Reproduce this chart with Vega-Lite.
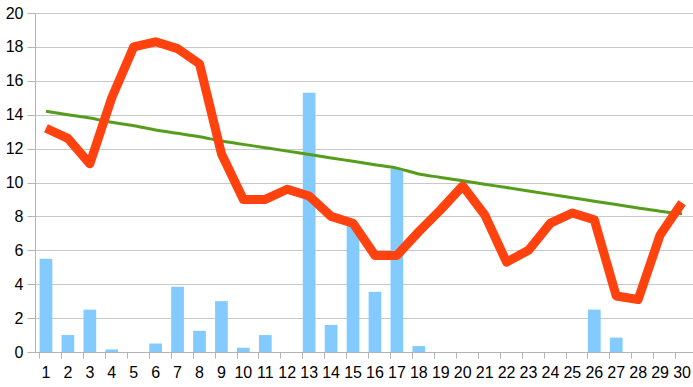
{
  "$schema": "https://vega.github.io/schema/vega-lite/v6.json",
  "width": 658,
  "height": 339,
  "autosize": {"type": "none"},
  "padding": {"left": 35, "top": 13, "right": 0, "bottom": 35},
  "background": "white",
  "config": {
    "view": {"stroke": null},
    "font": "Liberation Sans",
    "axis": {"labelFont": "Liberation Sans", "labelFontSize": 16, "labelColor": "#000000", "domainColor": "#b3b3b3", "tickColor": "#b3b3b3", "gridColor": "#c8c8c8"},
    "axisY": {"values": [0,2,4,6,8,10,12,14,16,18,20], "tickSize": 8, "labelPadding": 4, "grid": true, "domain": true, "title": null, "labelOverlap": false}
  },
  "data": {"values": [
    {"d": 1, "bar": 5.5, "red": 13.2, "green": 14.2},
    {"d": 2, "bar": 1.0, "red": 12.6, "green": 14.0},
    {"d": 3, "bar": 2.5, "red": 11.1, "green": 13.8},
    {"d": 4, "bar": 0.15, "red": 15.0, "green": 13.55},
    {"d": 5, "bar": 0, "red": 18.0, "green": 13.35},
    {"d": 6, "bar": 0.5, "red": 18.3, "green": 13.1},
    {"d": 7, "bar": 3.85, "red": 17.9, "green": 12.9},
    {"d": 8, "bar": 1.25, "red": 17.0, "green": 12.7},
    {"d": 9, "bar": 3.0, "red": 11.7, "green": 12.45},
    {"d": 10, "bar": 0.25, "red": 9.0, "green": 12.25},
    {"d": 11, "bar": 1.0, "red": 9.0, "green": 12.05},
    {"d": 12, "bar": 0, "red": 9.6, "green": 11.85},
    {"d": 13, "bar": 15.3, "red": 9.2, "green": 11.65},
    {"d": 14, "bar": 1.6, "red": 8.0, "green": 11.45},
    {"d": 15, "bar": 7.5, "red": 7.6, "green": 11.25},
    {"d": 16, "bar": 3.55, "red": 5.7, "green": 11.05},
    {"d": 17, "bar": 10.8, "red": 5.7, "green": 10.85},
    {"d": 18, "bar": 0.35, "red": 7.1, "green": 10.5},
    {"d": 19, "bar": 0, "red": 8.4, "green": 10.3},
    {"d": 20, "bar": 0, "red": 9.8, "green": 10.1},
    {"d": 21, "bar": 0, "red": 8.1, "green": 9.9},
    {"d": 22, "bar": 0, "red": 5.3, "green": 9.7},
    {"d": 23, "bar": 0, "red": 6.0, "green": 9.5},
    {"d": 24, "bar": 0, "red": 7.6, "green": 9.3},
    {"d": 25, "bar": 0, "red": 8.2, "green": 9.1},
    {"d": 26, "bar": 2.5, "red": 7.8, "green": 8.9},
    {"d": 27, "bar": 0.85, "red": 3.3, "green": 8.7},
    {"d": 28, "bar": 0, "red": 3.1, "green": 8.5},
    {"d": 29, "bar": 0, "red": 6.9, "green": 8.3},
    {"d": 30, "bar": 0, "red": 8.8, "green": 8.15}
  ]},
  "encoding": {
    "x": {"field": "d", "type": "ordinal", "scale": {"paddingInner": 0.42, "paddingOuter": 0.21},
      "axis": {"title": null, "labelAngle": 0, "tickSize": 6, "labelPadding": 6, "bandPosition": 0, "grid": false, "domainWidth": 1}}
  },
  "layer": [
    {
      "mark": {"type": "bar", "color": "#83caff"},
      "encoding": {
        "y": {"field": "bar", "type": "quantitative", "scale": {"domain": [0, 20], "nice": false}}
      }
    },
    {
      "mark": {"type": "line", "color": "#579d1c", "strokeWidth": 3, "interpolate": "monotone"},
      "encoding": {"y": {"field": "green", "type": "quantitative"}}
    },
    {
      "mark": {"type": "line", "color": "#ff420e", "strokeWidth": 9, "interpolate": "linear", "strokeJoin": "round", "strokeCap": "butt"},
      "encoding": {"y": {"field": "red", "type": "quantitative"}}
    }
  ]
}
